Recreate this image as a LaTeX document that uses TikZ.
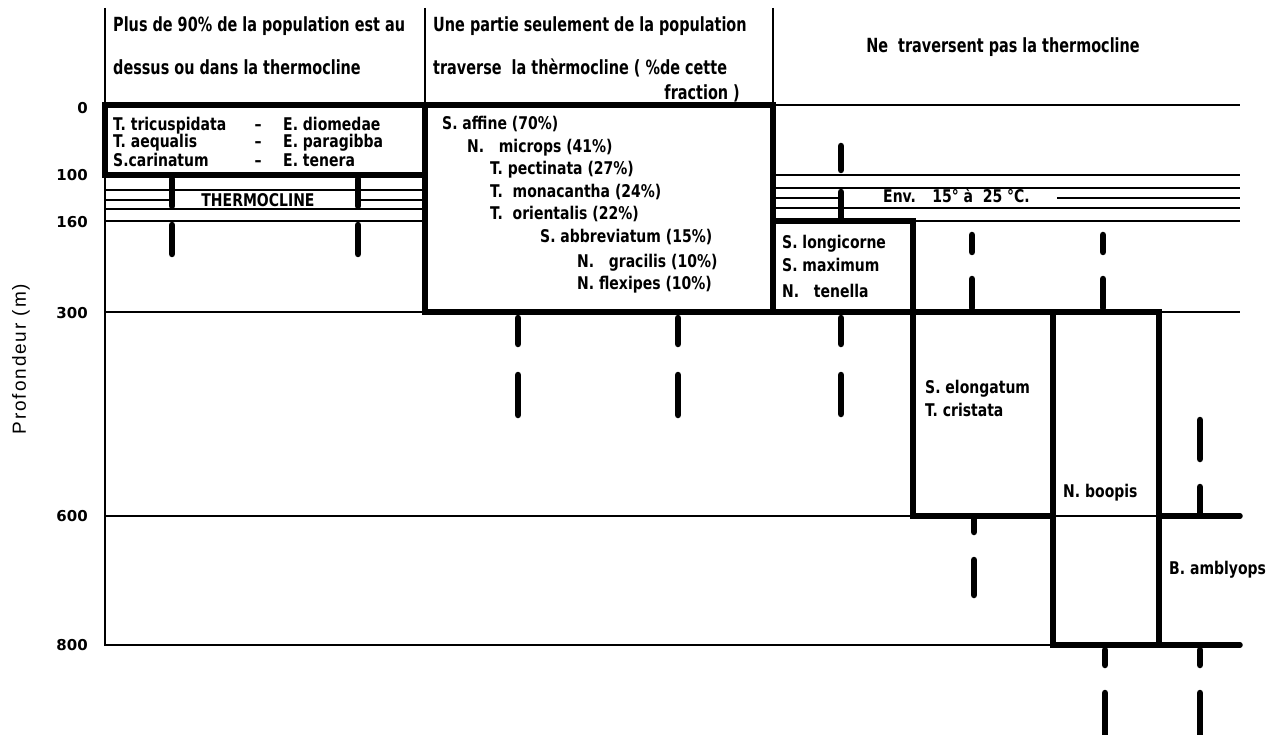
\documentclass[tikz,border=0pt]{standalone}
\usepackage{fontspec}
\setmainfont{DejaVu Sans}[FakeStretch=0.8]
\newfontfamily\headfont{DejaVu Sans}[FakeStretch=0.74]
\newfontfamily\depthfont{DejaVu Sans}
\newfontfamily\labelfont{Liberation Sans}[LetterSpace=10]
\begin{document}
\begin{tikzpicture}[x=1pt,y=-1pt,
    thinline/.style={line width=1.8pt},
    boxline/.style={line width=5.5pt},
    bar/.style={line width=6.5pt,line cap=round},
    txt/.style={anchor=base west,inner sep=0pt,font=\bfseries\fontsize{17.5}{18}\selectfont},
    head/.style={anchor=base west,inner sep=0pt,font=\headfont\bfseries\fontsize{19.5}{20}\selectfont},
    depth/.style={anchor=east,inner sep=0pt,font=\depthfont\bfseries\fontsize{15}{16}\selectfont}]
\useasboundingbox (0,0) rectangle (1276,735);

% axis and columns
\draw[thinline] (105,8) -- (105,646);
\draw[thinline] (425,8) -- (425,105);
\draw[thinline] (773,8) -- (773,105);

% depth scale
\foreach \y/\d in {108/0,175/100,222/160,313/300,516/600,645/800}
    \node[depth] (d\d) at (88,\y) {\d};
\node[rotate=90,inner sep=0pt,font=\labelfont\fontsize{19}{20}\selectfont] (prof) at (21,359) {Profondeur (m)};

% thin levels
\draw[thinline] (773,105) -- (1240,105);
\foreach \y in {190,209,221} \draw[thinline] (105,\y) -- (425,\y);
\draw[thinline] (105,200) -- (172,200) (358,200) -- (425,200);
\foreach \y in {175,188,208} \draw[thinline] (773,\y) -- (1240,\y);
\draw[thinline] (773,198) -- (841,198) (1057,198) -- (1240,198);
\draw[thinline] (913,221) -- (1240,221);
\draw[thinline] (105,312) -- (425,312) (1159,312) -- (1240,312);
\draw[thinline] (105,516) -- (913,516) (1053,516) -- (1159,516);
\draw[thinline] (105,645) -- (1053,645);

% boxes
\draw[boxline] (105,105) rectangle (425,175);
\draw[boxline] (425,105) rectangle (773,312);
\draw[boxline] (773,221) rectangle (913,312);
\draw[boxline] (913,312) rectangle (1053,516);
\draw[boxline] (1053,312) rectangle (1159,645);
\draw[boxline,line cap=round] (1159,516) -- (1240,516) (1159,645) -- (1240,645);

% bars
\foreach \x in {172,358} \draw[bar] (\x,179) -- (\x,206) (\x,225) -- (\x,254);
\foreach \x in {518,678} \draw[bar] (\x,318) -- (\x,344) (\x,375) -- (\x,415);
\draw[bar] (841,146) -- (841,170) (841,192) -- (841,218) (841,318) -- (841,344) (841,375) -- (841,414);
\foreach \x in {972,1103} \draw[bar] (\x,235) -- (\x,252) (\x,279) -- (\x,308);
\draw[bar] (974,519) -- (974,532) (974,560) -- (974,595);
\draw[bar] (1200,420) -- (1200,459) (1200,487) -- (1200,514);
\foreach \x in {1105,1200} \draw[bar] (\x,650) -- (\x,665) (\x,693) -- (\x,745);

% headers
\node[head] (h1a) at (113,32) {Plus de 90\% de la population est au};
\node[head] (h1b) at (113,75) {dessus ou dans la thermocline};
\node[head] (h2a) at (433,32) {Une partie seulement de la population};
\node[head] (h2b) at (433,75) {traverse~ la thèrmocline ( \%de cette};
\node[head,anchor=base east] (h2c) at (740,100) {fraction )};
\node[head,anchor=base] (h3) at (1003,53) {Ne~ traversent pas la thermocline};

% above / in thermocline
\foreach \y/\a/\b [count=\i] in {131/T. tricuspidata/E. diomedae,148/T. aequalis/E. paragibba,167/S.carinatum/E. tenera}{
    \node[txt] (sa\i) at (113,\y) {\a};
    \node[txt,anchor=base] (sd\i) at (258,\y) {--};
    \node[txt] (sb\i) at (283,\y) {\b};
}
\node[txt,anchor=base] (thermo) at (258,207) {THERMOCLINE};

% partly crossing
\node[txt] (p1) at (442,130) {S. affine (70\%)};
\node[txt] (p2) at (467,153) {N.~~ microps (41\%)};
\node[txt] (p3) at (490,175) {T. pectinata (27\%)};
\node[txt] (p4) at (490,198) {T.~ monacantha (24\%)};
\node[txt] (p5) at (490,220) {T.~ orientalis (22\%)};
\node[txt] (p6) at (540,243) {S. abbreviatum (15\%)};
\node[txt] (p7) at (577,267) {N.~~ gracilis (10\%)};
\node[txt] (p8) at (577,289) {N. flexipes (10\%)};

% not crossing
\node[txt] (n1) at (782,248) {S. longicorne};
\node[txt] (n2) at (782,271) {S. maximum};
\node[txt] (n3) at (782,297) {N.~~ tenella};
\node[txt] (env) at (883,203) {Env.~~ 15° à~ 25 °C.};
\node[txt] (n4) at (925,393) {S. elongatum};
\node[txt] (n5) at (925,416) {T. cristata};
\node[txt] (n6) at (1063,497) {N. boopis};
\node[txt] (n7) at (1169,574) {B. amblyops};
\end{tikzpicture}
\end{document}
